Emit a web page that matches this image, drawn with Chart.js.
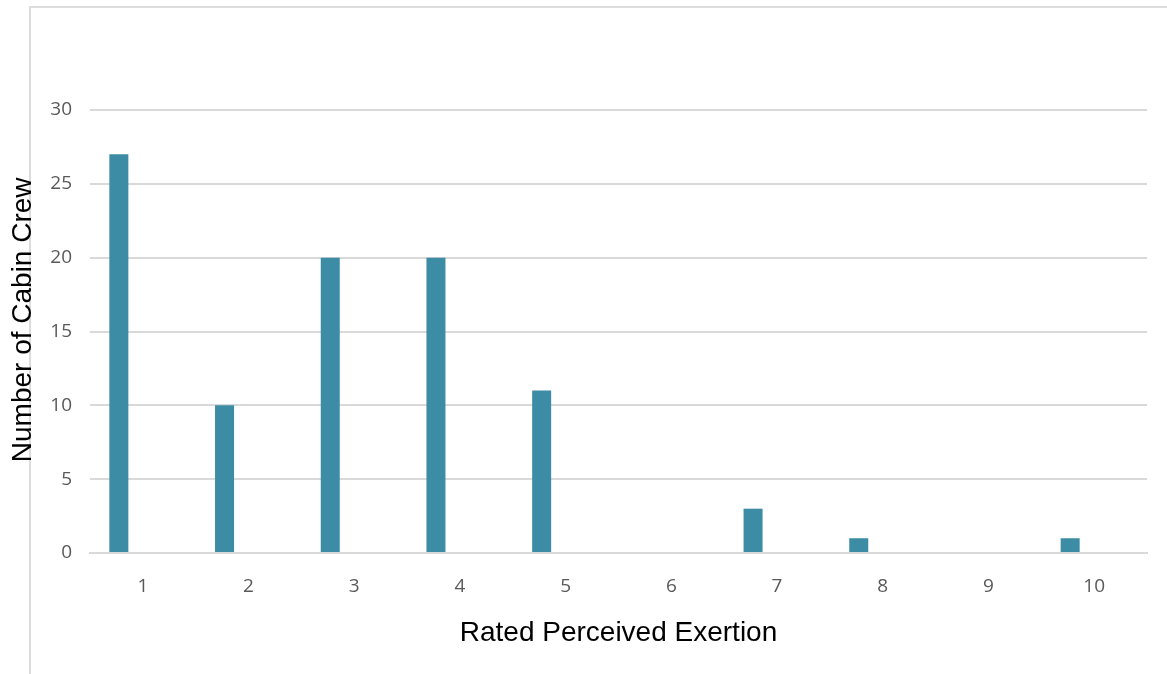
<!DOCTYPE html>
<html>
<head>
<meta charset="utf-8">
<script src="https://cdn.jsdelivr.net/npm/chart.js@4/dist/chart.umd.min.js"></script>
<style>
  html, body { margin: 0; padding: 0; background: #ffffff; }
  #wrap { position: relative; width: 1167px; height: 674px; }
  #frame { position: absolute; left: 29px; top: 6px; right: 0; bottom: 0;
           border-top: 2px solid #dcdcdc; border-left: 2px solid #dcdcdc; }
  canvas { position: absolute; left: 0; top: 0; }
</style>
</head>
<body>
<div id="wrap">
  <div id="frame"></div>
  <canvas id="c" width="1167" height="674"></canvas>
</div>
<script>
// Rated perceived exertion scores (1-10) and how many cabin crew gave each
const ratings = ['1', '2', '3', '4', '5', '6', '7', '8', '9', '10'];
const crewCounts = [27, 10, 20, 20, 11, 0, 3, 1, 0, 1];
// empty companion series of the clustered column layout
const companionSeries = [null, null, null, null, null, null, null, null, null, null];
const yTicks = [0, 5, 10, 15, 20, 25, 30];

const tickFont = { family: '"Open Sans", sans-serif', size: 19 };
const titleFont = { family: '"Liberation Sans", Arial, sans-serif', size: 28 };

new Chart(document.getElementById('c'), {
  type: 'bar',
  data: {
    labels: ratings,
    datasets: [
      {
        label: 'Number of Cabin Crew',
        data: crewCounts,
        backgroundColor: '#3b8ca4',
        borderWidth: 0,
        categoryPercentage: 0.908,
        barPercentage: 0.396
      },
      {
        label: 'Series 2',
        data: companionSeries,
        backgroundColor: '#3b8ca4',
        borderWidth: 0,
        categoryPercentage: 0.908,
        barPercentage: 0.396
      }
    ]
  },
  options: {
    responsive: false,
    animation: false,
    devicePixelRatio: 1,
    layout: { padding: { top: 110, right: 20, left: 0, bottom: 0 } },
    plugins: { legend: { display: false }, tooltip: { enabled: false } },
    scales: {
      x: {
        grid: { display: false, drawTicks: false },
        border: { display: true, color: '#d9d9d9', width: 2 },
        ticks: { color: '#595959', font: tickFont, padding: 22, maxRotation: 0 },
        title: {
          display: true,
          text: 'Rated Perceived Exertion',
          color: '#000000',
          font: titleFont,
          padding: { top: 0, bottom: 24 }
        },
        afterFit: (scale) => { scale.height = 121; }
      },
      y: {
        min: 0,
        max: 30,
        afterBuildTicks: (scale) => { scale.ticks = yTicks.map(v => ({ value: v })); },
        grid: { color: '#d9d9d9', lineWidth: 2, drawTicks: false },
        border: { display: false },
        ticks: { color: '#595959', font: tickFont, padding: 18 },
        title: {
          display: true,
          text: '   Number of Cabin Crew',
          color: '#000000',
          font: titleFont,
          padding: { top: 6, bottom: 0 }
        },
        afterFit: (scale) => { scale.width = 90; }
      }
    }
  }
});
</script>
</body>
</html>
